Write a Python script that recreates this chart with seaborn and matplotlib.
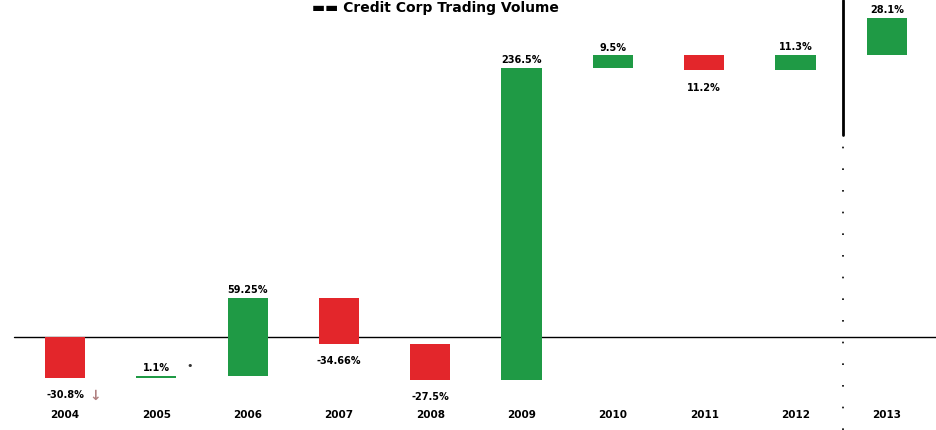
import numpy as np
import pandas as pd
import seaborn as sns
import matplotlib.pyplot as plt

# data (year-on-year change, %)
years = ["2004", "2005", "2006", "2007", "2008", "2009", "2010", "2011", "2012", "2013"]
changes = [-30.8, 1.1, 59.25, -34.66, -27.5, 236.5, 9.5, -11.2, 11.3, 28.1]
value_labels = ["-30.8%", "1.1%", "59.25%", "-34.66%", "-27.5%", "236.5%", "9.5%", "11.2%", "11.3%", "28.1%"]
title = "Credit Corp Trading Volume"

RED = "#e3262b"
GREEN = "#1f9a45"

# waterfall: each bar floats from the running total
ends = np.cumsum(changes)
starts = ends - np.array(changes)

df = pd.DataFrame({"Year": years, "Change": changes, "Start": starts})

sns.set_theme(style="white")
plt.rcParams["font.family"] = ["Liberation Sans Narrow", "DejaVu Sans"]

fig = plt.figure(figsize=(9.37, 4.3), dpi=100)
ax = fig.add_axes([0, 0, 1, 1])

# zero line sits behind the bars
ax.axhline(0, xmin=0.015, xmax=1, color="black", linewidth=1, zorder=0)

sns.barplot(data=df, x="Year", y="Change", bottom=df["Start"].values,
            width=0.44, color=GREEN, ax=ax, linewidth=0, zorder=2)
for patch, ch in zip(ax.patches, changes):
    patch.set_facecolor(GREEN if ch > 0 else RED)
    patch.set_edgecolor("none")

# value labels: above the bar for gains, below for losses
for i, (lab, ch, s, e) in enumerate(zip(value_labels, changes, starts, ends)):
    if ch > 0:
        ax.annotate(lab, (i, e), xytext=(0, 2), textcoords="offset points",
                    ha="center", va="bottom", fontsize=7, fontweight="bold",
                    color="black")
    else:
        ax.annotate(lab, (i, e), xytext=(0, -9), textcoords="offset points",
                    ha="center", va="top", fontsize=7, fontweight="bold",
                    color="black")

# little marks next to the first two labels
ax.annotate("\u2193", (0, ends[0]), xytext=(22, -8), textcoords="offset points",
            ha="center", va="top", fontsize=10, color="#b08080", fontweight="bold")
ax.annotate("\u2022", (1, ends[1]), xytext=(24, 4), textcoords="offset points",
            ha="center", va="bottom", fontsize=8, color="#333333")

# year labels along the bottom
trans = ax.get_xaxis_transform()
for i, y in enumerate(years):
    ax.text(i, 0.023, y, transform=trans, ha="center", va="bottom",
            fontsize=7.5, fontweight="bold", color="black")

# vertical separator between 2012 and 2013
ax.axvline(8.52, ymin=0.686, ymax=1, color="black", linewidth=2)
ax.axvline(8.52, ymin=0.0, ymax=0.686, color="black", linewidth=1.2,
           linestyle=(0, (1, 12)))

ax.set_xlim(-0.712, 9.55)
ax.set_ylim(-70.5, 255.3)
ax.set_xlabel("")
ax.set_ylabel("")
ax.set_xticks([])
ax.set_yticks([])
sns.despine(ax=ax, left=True, bottom=True)

fig.text(0.465, 0.997, "\u25ac\u25ac " + title, ha="center", va="top",
         fontsize=10, fontweight="bold", color="black")

fig.savefig("out.png", dpi=100)
